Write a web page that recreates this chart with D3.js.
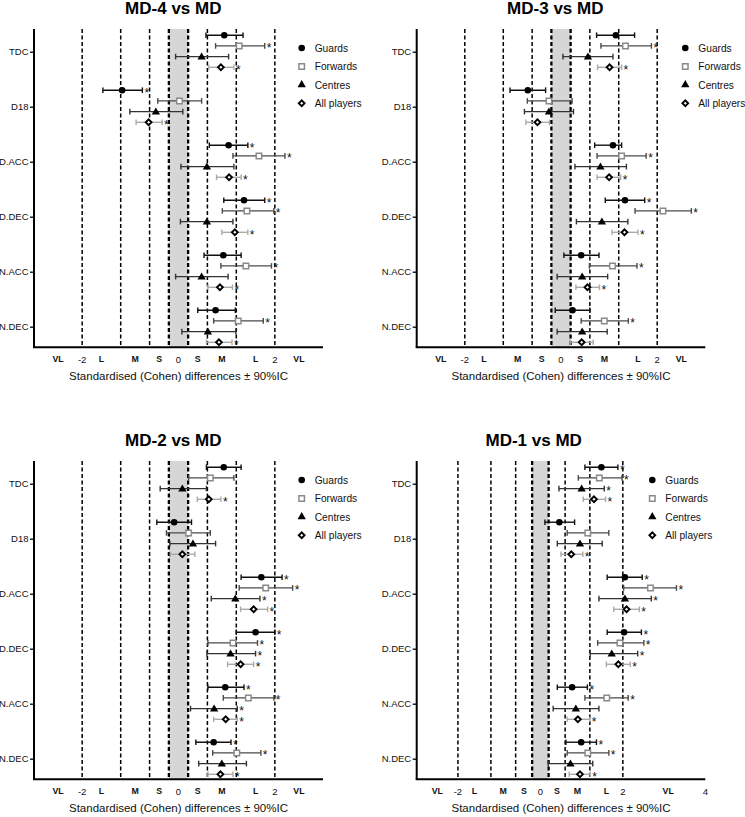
<!DOCTYPE html>
<html><head><meta charset="utf-8">
<script src="https://cdn.jsdelivr.net/npm/d3@7"></script>
<style>body{margin:0;background:#fff;} svg{display:block;}</style>
</head><body>
<svg id="chart" width="745" height="817"></svg>
<script>
// ---------- DATA ----------
const categories = ["TDC", "D18", "D.ACC", "D.DEC", "N.ACC", "N.DEC"];
const groups = ["Guards", "Forwards", "Centres", "All players"];
const tickLabels = ["VL", "-2", "L", "M", "S", "0", "S", "M", "L", "2", "VL"];
const tickValues = [-2.5, -2, -1.6, -0.9, -0.4, 0, 0.4, 0.9, 1.6, 2, 2.5];
const tickLabels4 = ["VL", "-2", "L", "M", "S", "0", "S", "M", "L", "2", "VL", "4"];
const tickValues4 = [-2.5, -2, -1.6, -0.9, -0.4, 0, 0.4, 0.9, 1.6, 2, 3.1, 4];
const thresholds = [-2, -1.2, -0.6, -0.2, 0.2, 0.6, 1.2, 2];
const trivialBand = [-0.2, 0.2];
const titles = ["MD-4 vs MD", "MD-3 vs MD", "MD-2 vs MD", "MD-1 vs MD"];
const xLabel = "Standardised (Cohen) differences \u00B1 90%IC";

// rows per category: [estimate, lower, upper, significant(1/0)]
const md4_guards   = [[0.95,0.57,1.34,0],[-1.17,-1.57,-0.75,1],[1.04,0.64,1.44,1],[1.36,0.94,1.79,1],[0.93,0.53,1.30,0],[0.77,0.40,1.18,0]];
const md4_forwards = [[1.26,0.77,1.79,1],[0.02,-0.43,0.48,0],[1.67,1.13,2.21,1],[1.42,0.91,1.98,1],[1.40,0.88,1.93,1],[1.24,0.73,1.76,1]];
const md4_centres  = [[0.48,-0.06,1.04,0],[-0.47,-1.01,0.09,0],[0.59,0.05,1.15,0],[0.59,0.04,1.13,0],[0.48,-0.06,1.03,0],[0.61,0.07,1.19,0]];
const md4_all      = [[0.88,0.63,1.15,1],[-0.62,-0.88,-0.34,1],[1.05,0.79,1.30,1],[1.17,0.90,1.44,1],[0.86,0.61,1.12,1],[0.84,0.58,1.11,1]];

const md3_guards   = [[1.14,0.74,1.53,0],[-0.69,-1.06,-0.32,0],[1.08,0.70,1.26,0],[1.33,0.92,1.74,1],[0.42,0.06,0.79,0],[0.24,-0.12,0.60,0]];
const md3_forwards = [[1.34,0.83,1.88,1],[-0.25,-0.70,0.23,0],[1.26,0.75,1.77,1],[2.12,1.54,2.71,1],[1.07,0.59,1.58,1],[0.90,0.42,1.40,1]];
const md3_centres  = [[0.56,0.04,1.08,0],[-0.25,-0.76,0.26,0],[0.82,0.29,1.36,0],[0.85,0.32,1.39,0],[0.44,-0.08,0.97,0],[0.44,-0.08,0.96,0]];
const md3_all      = [[1.01,0.76,1.26,1],[-0.49,-0.73,-0.24,0],[1.00,0.75,1.24,1],[1.32,1.06,1.60,1],[0.55,0.31,0.80,1],[0.43,0.19,0.67,0]];

const md2_guards   = [[0.94,0.58,1.30,0],[-0.09,-0.45,0.27,0],[1.72,1.30,2.15,1],[1.60,1.20,2.00,1],[0.97,0.61,1.36,1],[0.73,0.36,1.09,1]];
const md2_forwards = [[0.66,0.21,1.15,0],[0.21,-0.25,0.66,0],[1.81,1.26,2.37,1],[1.13,0.61,1.64,1],[1.45,0.93,1.98,1],[1.21,0.71,1.71,1]];
const md2_centres  = [[0.08,-0.38,0.58,0],[0.30,-0.18,0.77,0],[1.18,0.68,1.69,1],[1.08,0.59,1.60,1],[0.74,0.25,1.22,1],[0.90,0.42,1.41,0]];
const md2_all      = [[0.63,0.39,0.88,1],[0.08,-0.17,0.34,0],[1.56,1.29,1.85,1],[1.29,1.02,1.56,1],[0.98,0.73,1.22,1],[0.87,0.61,1.13,1]];

const md1_guards   = [[1.48,1.08,1.88,1],[0.46,0.11,0.83,0],[2.05,1.62,2.47,1],[2.03,1.62,2.45,1],[0.77,0.41,1.14,1],[0.99,0.62,1.36,1]];
const md1_forwards = [[1.43,0.92,1.98,1],[1.15,0.65,1.66,0],[2.67,2.02,3.30,1],[1.93,1.39,2.51,1],[1.61,1.08,2.13,1],[1.15,0.65,1.66,1]];
const md1_centres  = [[1.00,0.45,1.55,1],[0.96,0.41,1.50,0],[2.05,1.42,2.69,1],[1.73,1.21,2.36,1],[0.86,0.31,1.42,0],[0.73,0.19,1.27,0]];
const md1_all      = [[1.30,1.04,1.58,1],[0.75,0.50,1.03,1],[2.09,1.78,2.40,1],[1.89,1.60,2.18,1],[0.91,0.65,1.20,1],[0.96,0.70,1.21,1]];

const panelData = [
  [md4_guards, md4_forwards, md4_centres, md4_all],
  [md3_guards, md3_forwards, md3_centres, md3_all],
  [md2_guards, md2_forwards, md2_centres, md2_all],
  [md1_guards, md1_forwards, md1_centres, md1_all]
];
const xDomains = [[-3, 3], [-3, 3], [-3, 3], [-3, 4]];

// ---------- LAYOUT / STYLE ----------
const panels = [
  {oy: 0,   x0: 34,    x1: 323,   titleX: 173.3, legX: 301.7},
  {oy: 0,   x0: 416.7, x1: 705.3, titleX: 555.3, legX: 685.3},
  {oy: 432, x0: 34,    x1: 323,   titleX: 173.3, legX: 301.7},
  {oy: 432, x0: 416.7, x1: 705.3, titleX: 533.7, legX: 652.3}
];
const groupStyle = {
  "Guards":      {bar: "#111", sym: d3.symbolCircle,   size: 34, fill: "#000", stroke: "none", sw: 0, rot: 0},
  "Forwards":    {bar: "#4a4a4a", sym: d3.symbolSquare, size: 30, fill: "#fff", stroke: "#8a8a8a", sw: 1.5, rot: 0},
  "Centres":     {bar: "#333", sym: d3.symbolTriangle, size: 30, fill: "#000", stroke: "none", sw: 0, rot: 0},
  "All players": {bar: "#aaaaaa", sym: d3.symbolSquare, size: 17, fill: "#fff", stroke: "#000", sw: 1.9, rot: 45}
};
const FONT = "'Liberation Sans', Arial, Helvetica, sans-serif";

const svg = d3.select("#chart").style("font-family", FONT);

panels.forEach((p, pi) => {
  const top = p.oy + 29, bottom = p.oy + 347.3;
  const x = d3.scaleLinear().domain(xDomains[pi]).range([p.x0, p.x1]);
  const y = d3.scalePoint().domain(categories).range([p.oy + 51.7, p.oy + 326.7]);
  const gy = d3.scalePoint().domain(groups).range([-16.5, 15.6]);
  const g = svg.append("g");

  // trivial band
  g.append("rect")
    .attr("x", x(trivialBand[0])).attr("y", top)
    .attr("width", x(trivialBand[1]) - x(trivialBand[0]))
    .attr("height", bottom - top)
    .attr("fill", "#d6d6d6");

  // threshold dashed lines
  g.selectAll("line.thr").data(thresholds).join("line")
    .attr("x1", d => x(d)).attr("x2", d => x(d))
    .attr("y1", top).attr("y2", bottom)
    .attr("stroke", "#000")
    .attr("stroke-width", d => Math.abs(d) === 0.2 ? 2.3 : 1.5)
    .attr("stroke-dasharray", "4,2.5");

  // title
  g.append("text").attr("x", p.titleX).attr("y", p.oy + 14)
    .attr("text-anchor", "middle").attr("font-weight", "bold")
    .attr("font-size", 17).text(titles[pi]);

  // y axis
  const yAxis = d3.axisLeft(y).tickSize(4).tickPadding(1.5);
  const ya = g.append("g").attr("transform", `translate(${p.x0},0)`).call(yAxis);
  ya.select(".domain").attr("d", `M0,${top}V${bottom}`).attr("stroke-width", 2);
  ya.selectAll(".tick line").attr("stroke-width", 1.3);
  ya.selectAll(".tick text").attr("font-size", 9.5).attr("font-family", FONT).attr("fill", "#111");

  // x axis line
  g.append("line").attr("x1", p.x0 - 1).attr("x2", p.x1).attr("y1", bottom).attr("y2", bottom)
    .attr("stroke", "#000").attr("stroke-width", 2);

  // x tick labels
  const tl = pi === 3 ? tickLabels4 : tickLabels;
  const tv = pi === 3 ? tickValues4 : tickValues;
  g.selectAll("text.xt").data(tv).join("text")
    .attr("x", d => x(d))
    .attr("y", (d, i) => isNaN(+tl[i]) ? bottom + 14.5 : bottom + 16)
    .attr("text-anchor", "middle")
    .attr("font-size", (d, i) => isNaN(+tl[i]) ? 8.8 : 9.5)
    .attr("font-weight", (d, i) => isNaN(+tl[i]) ? "bold" : "normal")
    .attr("fill", "#111")
    .text((d, i) => tl[i]);

  // x label
  g.append("text").attr("x", (p.x0 + p.x1) / 2).attr("y", bottom + 33)
    .attr("text-anchor", "middle").attr("font-size", 11.5).attr("fill", "#111").text(xLabel);

  // data
  groups.forEach((grp, gi) => {
    const rows = panelData[pi][gi];
    const st = groupStyle[grp];
    const gg = g.append("g");
    rows.forEach((r, ci) => {
      const yy = y(categories[ci]) + gy(grp);
      gg.append("line").attr("x1", x(r[1])).attr("x2", x(r[2])).attr("y1", yy).attr("y2", yy)
        .attr("stroke", st.bar).attr("stroke-width", 1.4);
      [r[1], r[2]].forEach(v => {
        gg.append("line").attr("x1", x(v)).attr("x2", x(v)).attr("y1", yy - 2.8).attr("y2", yy + 2.8)
          .attr("stroke", st.bar).attr("stroke-width", 1.4);
      });
      gg.append("path").attr("d", d3.symbol().type(st.sym).size(st.size)())
        .attr("transform", `translate(${x(r[0])},${yy + (grp === "Centres" ? 0.6 : 0)}) rotate(${st.rot})`)
        .attr("fill", st.fill).attr("stroke", st.stroke).attr("stroke-width", st.sw);
      if (r[3]) {
        gg.append("text").attr("x", x(r[2]) + 2).attr("y", yy + 6.5)
          .attr("font-size", 12).attr("fill", "#111").text("*");
      }
    });
  });

  // legend
  groups.forEach((grp, gi) => {
    const st = groupStyle[grp];
    const ly = p.oy + 48 + gi * 18.4;
    g.append("path").attr("d", d3.symbol().type(st.sym).size(st.size)())
      .attr("transform", `translate(${p.legX},${ly}) rotate(${st.rot})`)
      .attr("fill", st.fill).attr("stroke", st.stroke).attr("stroke-width", st.sw);
    g.append("text").attr("x", p.legX + 13).attr("y", ly + 3.8)
      .attr("font-size", 10.2).attr("fill", "#111").text(grp);
  });
});
</script>
</body></html>
